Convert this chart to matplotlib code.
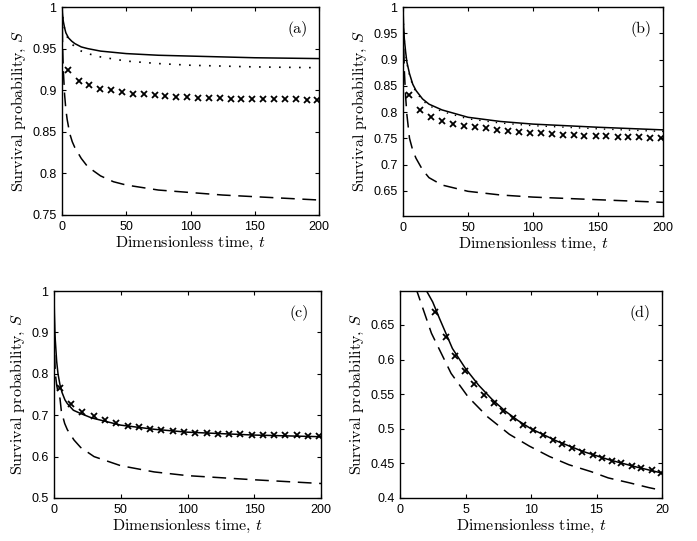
import numpy as np
import matplotlib
matplotlib.use('Agg')
import matplotlib.pyplot as plt
from matplotlib.ticker import FormatStrFormatter

plt.rcParams['mathtext.fontset'] = 'cm'
plt.rcParams['font.family'] = ['Liberation Sans', 'DejaVu Sans']
plt.rcParams['axes.formatter.use_mathtext'] = False

# ---- panel (a) ----
t_a = [0, 0.5, 1, 2, 3, 5, 7.5, 10, 15, 20, 30, 50, 75, 100, 150, 200]
solid_a = [1, 0.990, 0.983, 0.975, 0.969, 0.963, 0.959, 0.956, 0.952, 0.950,
           0.947, 0.944, 0.942, 0.941, 0.939, 0.938]
dotted_a = [1, 0.990, 0.982, 0.974, 0.968, 0.961, 0.956, 0.952, 0.947, 0.944,
            0.940, 0.935, 0.932, 0.930, 0.928, 0.927]
t_dash_a = [0, 0.5, 1, 2, 3, 4, 6, 8, 10, 15, 20, 30, 40, 50, 75, 100, 125,
            150, 175, 200]
dashed_a = [1, 0.95, 0.925, 0.895, 0.877, 0.865, 0.848, 0.838, 0.831, 0.818,
            0.808, 0.797, 0.790, 0.786, 0.780, 0.777, 0.774, 0.772, 0.770, 0.768]

# cross positions shared by panels (a)-(c)
t_cross = [4.4, 12.9, 21.3, 29.8, 38.2, 46.7, 55.1, 63.6, 72.0, 80.5, 88.9,
           97.4, 105.8, 114.3, 122.7, 131.2, 139.6, 148.1, 156.5, 165.0,
           173.4, 181.9, 190.3, 198.8]
cross_a = [0.924, 0.911, 0.906, 0.902, 0.900, 0.898, 0.896, 0.895, 0.894,
           0.893, 0.892, 0.892, 0.891, 0.891, 0.891, 0.890, 0.890, 0.890,
           0.889, 0.889, 0.889, 0.889, 0.888, 0.888]

# ---- panel (b) ----
t_b = [0, 0.5, 1, 2, 3, 5, 7.5, 10, 15, 20, 30, 50, 75, 100, 150, 200]
solid_b = [1, 0.96, 0.94, 0.915, 0.895, 0.873, 0.853, 0.841, 0.825, 0.815,
           0.804, 0.790, 0.782, 0.777, 0.771, 0.766]
dotted_b = [1, 0.96, 0.938, 0.912, 0.892, 0.870, 0.850, 0.838, 0.822, 0.812,
            0.801, 0.787, 0.779, 0.774, 0.768, 0.763]
dashed_b = [1, 0.93, 0.88, 0.83, 0.795, 0.750, 0.727, 0.712, 0.690, 0.675,
            0.661, 0.649, 0.642, 0.638, 0.633, 0.628]
cross_b = [0.833, 0.804, 0.790, 0.783, 0.778, 0.774, 0.771, 0.769, 0.766,
           0.764, 0.762, 0.760, 0.760, 0.758, 0.757, 0.756, 0.755, 0.754,
           0.754, 0.753, 0.753, 0.752, 0.751, 0.751]

# ---- panel (c) ----
t_c = [0, 0.25, 0.75, 1, 2, 3, 4.5, 6, 8.2, 10, 14.5, 20, 27, 30, 50, 75,
       100, 150, 200]
solid_c = [1, 0.95, 0.894, 0.88, 0.83, 0.80, 0.773, 0.755, 0.737, 0.728,
           0.712, 0.704, 0.695, 0.692, 0.676, 0.666, 0.659, 0.652, 0.648]
t_dash_c = [0, 0.25, 0.5, 1, 2, 3, 4.5, 5.5, 8, 10, 15, 20, 30, 50, 75, 100,
            150, 200]
dashed_c = [1, 0.9, 0.84, 0.80, 0.773, 0.755, 0.74, 0.71, 0.68, 0.665, 0.64,
            0.622, 0.60, 0.578, 0.563, 0.554, 0.544, 0.535]
cross_c = [0.766, 0.726, 0.707, 0.697, 0.688, 0.681, 0.675, 0.671, 0.667,
           0.665, 0.662, 0.660, 0.658, 0.657, 0.655, 0.654, 0.654, 0.653,
           0.652, 0.652, 0.651, 0.651, 0.650, 0.650]

# ---- panel (d) ----
t_solid_d = [1.8, 2.0, 2.5, 3, 4, 5, 6, 7, 8, 9, 10, 12, 14, 16, 18, 20]
solid_d = [0.715, 0.70, 0.683, 0.66, 0.616, 0.587, 0.563, 0.543, 0.526,
           0.512, 0.50, 0.482, 0.467, 0.455, 0.445, 0.436]
t_dash_d = [1.0, 1.27, 2.4, 3.9, 5.2, 6.7, 8.35, 9.87, 11.4, 12.9, 14.6, 15.9,
            17.5, 19, 20]
dashed_d = [0.735, 0.70, 0.638, 0.58, 0.546, 0.517, 0.492, 0.475, 0.46, 0.448,
            0.438, 0.429, 0.422, 0.415, 0.411]
t_cross_d = [2.7, 3.5, 4.2, 4.94, 5.67, 6.4, 7.14, 7.9, 8.63, 9.4, 10.15, 10.9,
             11.67, 12.4, 13.16, 13.9, 14.7, 15.4, 16.2, 16.9, 17.7, 18.4,
             19.2, 19.9]
cross_d = [0.668, 0.633, 0.605, 0.583, 0.565, 0.5495, 0.537, 0.525, 0.515,
           0.506, 0.498, 0.491, 0.484, 0.478, 0.472, 0.467, 0.4626, 0.458,
           0.454, 0.450, 0.4466, 0.443, 0.440, 0.436]

W, H = 697, 541
fig = plt.figure(figsize=(W / 100, H / 100), dpi=100)


def px_axes(left, right, top, bottom):
    return fig.add_axes([left / W, 1 - bottom / H, (right - left) / W,
                         (bottom - top) / H])


label_font = dict(family='cmr10', size=11.5)
dash_style = (0, (9, 5))


def style(ax, xlim, xticks, ylim, yticks, tag):
    ax.set_xlim(*xlim)
    ax.set_ylim(*ylim)
    ax.set_xticks(xticks)
    ax.set_yticks(yticks)
    ax.yaxis.set_major_formatter(FormatStrFormatter('%g'))
    ax.xaxis.set_major_formatter(FormatStrFormatter('%g'))
    ax.tick_params(direction='in', top=True, right=True, length=3,
                   width=0.8, labelsize=9, pad=4)
    for s in ax.spines.values():
        s.set_linewidth(1.0)
    ax.set_xlabel('Dimensionless time, $t$', fontdict=label_font, labelpad=2)
    ax.set_ylabel('Survival probability, $S$', fontdict=label_font,
                  labelpad=3)
    ax.text(0.955, 0.895, tag, transform=ax.transAxes, ha='right',
            va='center', fontdict=label_font)


lw = 1.1
ms = dict(marker='x', ls='none', color='black', markersize=5, mew=1.3)

ax = px_axes(62, 319, 7, 215)
ax.plot(t_a, solid_a, color='black', lw=lw)
ax.plot(t_a, dotted_a, color='black', lw=1.2, ls=(0, (1, 5)))
ax.plot(t_dash_a, dashed_a, color='black', lw=lw, ls=dash_style)
ax.plot(t_cross, cross_a, **ms)
style(ax, (0, 200), [0, 50, 100, 150, 200], (0.75, 1),
      [0.75, 0.8, 0.85, 0.9, 0.95, 1], '(a)')

ax = px_axes(403, 663, 7, 216)
ax.plot(t_b, solid_b, color='black', lw=lw)
ax.plot(t_b, dotted_b, color='black', lw=1.0, ls=(0, (1, 5)))
ax.plot(t_b, dashed_b, color='black', lw=lw, ls=dash_style)
ax.plot(t_cross, cross_b, **ms)
style(ax, (0, 200), [0, 50, 100, 150, 200], (0.602, 1),
      [0.65, 0.7, 0.75, 0.8, 0.85, 0.9, 0.95, 1], '(b)')

ax = px_axes(54, 321, 291, 498)
ax.plot(t_c, solid_c, color='black', lw=lw)
ax.plot(t_dash_c, dashed_c, color='black', lw=lw, ls=dash_style)
ax.plot(t_cross, cross_c, **ms)
style(ax, (0, 200), [0, 50, 100, 150, 200], (0.5, 1),
      [0.5, 0.6, 0.7, 0.8, 0.9, 1], '(c)')

ax = px_axes(400, 662, 291, 498)
ax.plot(t_solid_d, solid_d, color='black', lw=lw)
ax.plot(t_dash_d, dashed_d, color='black', lw=lw, ls=dash_style)
ax.plot(t_cross_d, cross_d, **ms)
style(ax, (0, 20), [0, 5, 10, 15, 20], (0.4, 0.699),
      [0.4, 0.45, 0.5, 0.55, 0.6, 0.65], '(d)')

fig.savefig('out.png', dpi=100)
plt.close('all')
